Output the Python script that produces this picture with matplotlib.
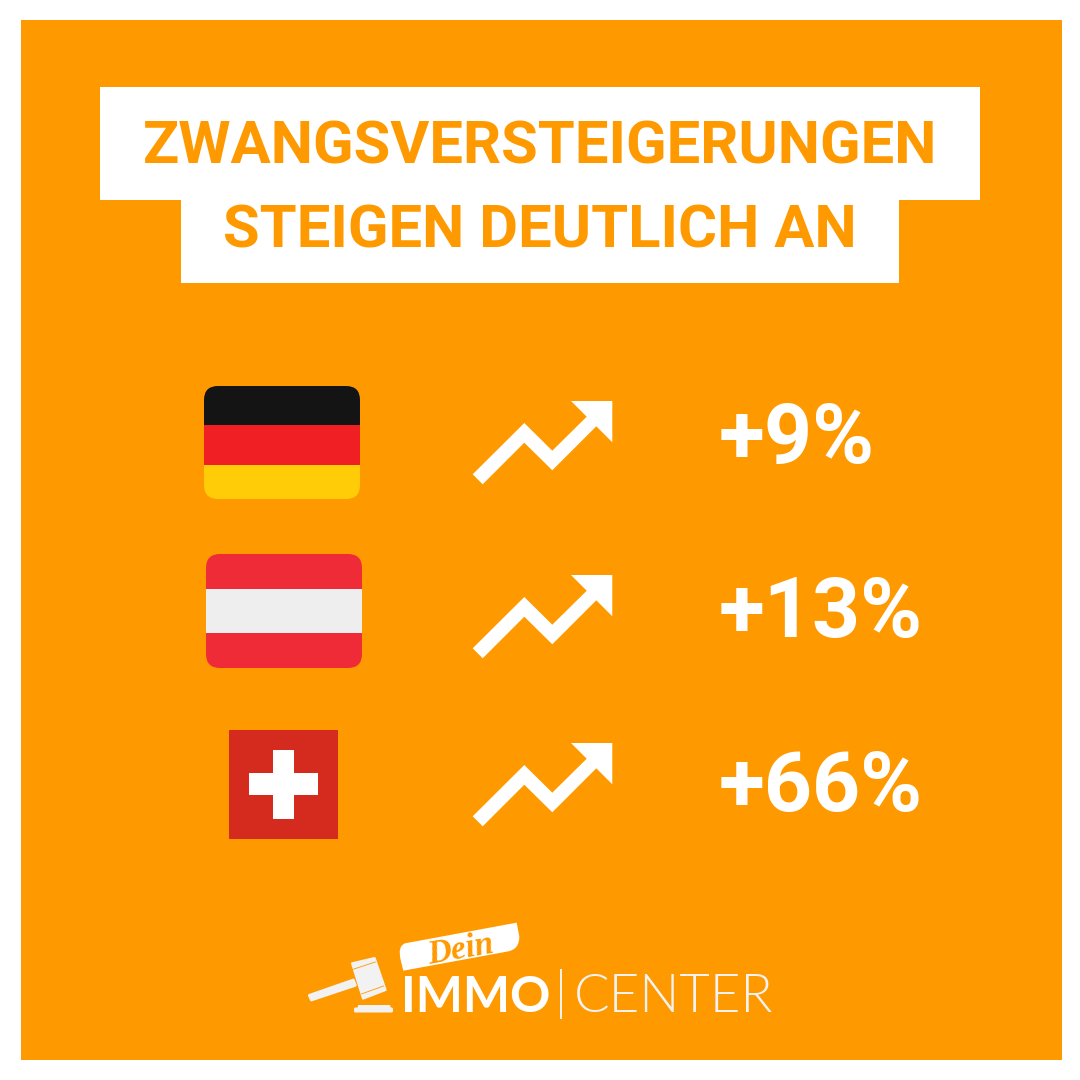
import numpy as np
import matplotlib
matplotlib.use('Agg')
from matplotlib import pyplot as plt
from matplotlib.patches import Rectangle, Polygon, FancyBboxPatch, PathPatch
from matplotlib.path import Path

title_lines = ['ZWANGSVERSTEIGERUNGEN', 'STEIGEN DEUTLICH AN']
countries = ['Deutschland', 'Österreich', 'Schweiz']
increase_pct = [9, 13, 66]

ORANGE = '#FF9900'
WHITE = '#FFFFFF'
LOGO = '#F2F2F2'

fig = plt.figure(figsize=(10.8, 10.8), dpi=100, facecolor=WHITE)
# whole figure is one axes in pixel units, y pointing down
ax = fig.add_axes([0, 0, 1, 1])
ax.set_xlim(0, 1080)
ax.set_ylim(1080, 0)
ax.axis('off')

ax.add_patch(Rectangle((21, 20), 1041, 1040, fc=ORANGE, ec='none'))

# title boxes
ax.add_patch(Rectangle((100, 87), 880, 113, fc=WHITE, ec='none'))
ax.add_patch(Rectangle((181, 200), 718, 83, fc=WHITE, ec='none'))
ax.text(540, 164, title_lines[0], family='Roboto', weight='bold', fontsize=43,
        color=ORANGE, ha='center', va='baseline')
ax.text(540, 247, title_lines[1], family='Roboto', weight='bold', fontsize=43,
        color=ORANGE, ha='center', va='baseline')


def flag_bands(x, y, w, h, bands, radius=14):
    clip = FancyBboxPatch((x + radius, y + radius), w - 2 * radius, h - 2 * radius,
                          boxstyle='round,pad=%d,rounding_size=%d' % (radius, radius),
                          fc='none', ec='none')
    ax.add_patch(clip)
    for top, bottom, colour in bands:
        r = Rectangle((x, top), w, bottom - top, fc=colour, ec='none')
        ax.add_patch(r)
        r.set_clip_path(clip)


flag_bands(204, 386, 156, 113, [(386, 425, '#141414'), (425, 465, '#F01F24'), (465, 499, '#FFCC07')])
flag_bands(206, 554, 156, 114, [(554, 589, '#EF2B38'), (589, 633, '#EEEEEE'), (633, 668, '#EF2B38')])
ax.add_patch(Rectangle((229, 730), 109, 109, fc='#D52B1E', ec='none'))
ax.add_patch(Rectangle((273, 750), 21, 69, fc=WHITE, ec='none'))
ax.add_patch(Rectangle((249, 773), 69, 22, fc=WHITE, ec='none'))

# trend arrow, outline for the first row
arrow = np.array([(472.7, 474.3), (524.3, 423), (552.3, 450.7), (586.7, 416.7), (571, 401),
                  (612.3, 401), (612.3, 442.3), (596.3, 426.3), (552.3, 470.3),
                  (524.3, 442.7), (482.7, 484.3)])
arrow_dy = [0, 174, 342]
label_y = [463, 637.5, 811]

for i, country in enumerate(countries):
    ax.add_patch(Polygon(arrow + [0, arrow_dy[i]], closed=True, fc=WHITE, ec='none'))
    ax.text(719, label_y[i], '+%d%%' % increase_pct[i], family='Roboto', weight='bold',
            fontsize=60.5, color=WHITE, ha='left', va='baseline')


def zoomed(points):
    return np.array(points) / 3.0 + [290, 910]


# logo banner, rounded on two corners
banner_pts = zoomed([(345, 100), (680, 38), (688, 80), (688, 120), (650, 125), (340, 182),
                     (332, 150), (322, 108), (345, 100), (345, 100)])
banner_codes = [Path.MOVETO, Path.LINETO, Path.LINETO, Path.CURVE3, Path.CURVE3, Path.LINETO,
                Path.LINETO, Path.CURVE3, Path.CURVE3, Path.CLOSEPOLY]
ax.add_patch(PathPatch(Path(banner_pts, banner_codes), fc=WHITE, ec='none'))
ax.text(461, 950, 'Dein', family='Liberation Serif', style='italic', weight='bold',
        fontsize=24, color=ORANGE, ha='center', va='center', rotation=10)

# gavel
ax.add_patch(Polygon(zoomed([(58, 256), (190, 210), (196, 226), (64, 270)]), closed=True,
                     fc=LOGO, ec=LOGO, lw=2, joinstyle='round'))
ax.add_patch(Polygon(zoomed([(186, 160), (254, 144), (287, 240), (219, 266)]), closed=True,
                     fc=LOGO, ec=LOGO, lw=1.5, joinstyle='round'))
ax.plot(*zoomed([(189, 178), (256, 156)]).T, color=ORANGE, lw=0.6)
ax.plot(*zoomed([(214, 252), (281, 228)]).T, color=ORANGE, lw=0.6)
ax.add_patch(Polygon(zoomed([(205, 285), (300, 285), (303, 295), (202, 295)]), closed=True,
                     fc=LOGO, ec='none'))
ax.add_patch(FancyBboxPatch((355, 1008.5), 37, 3, boxstyle='round,pad=1,rounding_size=1.5',
                            fc=LOGO, ec='none'))

# logo wordmark
ax.text(401, 1012, 'IMMO', family='Lato', weight='bold', fontsize=36, color=WHITE,
        ha='left', va='baseline')
ax.add_patch(Rectangle((559.5, 969), 2, 50, fc=LOGO, ec='none'))
ax.text(574, 1012, 'CENTER', family='Lato', weight=300, fontsize=38, color=LOGO,
        ha='left', va='baseline')

fig.savefig('out.png', dpi=100, facecolor=WHITE)
